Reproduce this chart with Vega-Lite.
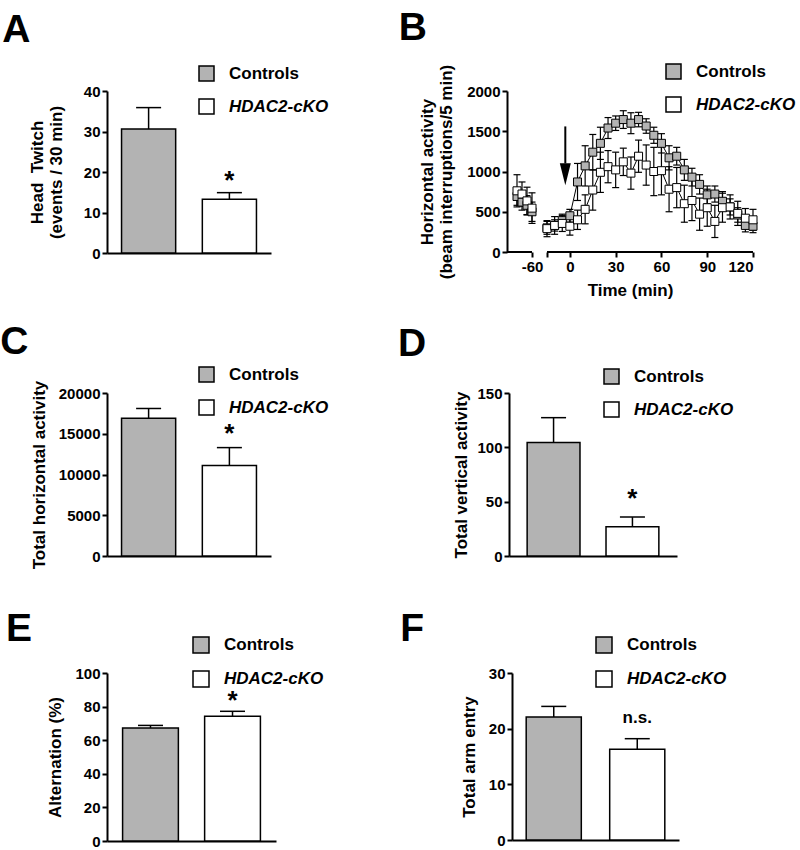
{
  "$schema": "https://vega.github.io/schema/vega-lite/v6.json",
  "background": "white",
  "padding": {"left": 0, "top": 9, "right": 0, "bottom": 0},
  "config": {
    "font": "Liberation Sans",
    "numberFormat": "d",
    "view": {"stroke": null},
    "axis": {"domainColor": "black", "domainWidth": 2, "tickColor": "black", "tickWidth": 2, "tickSize": 5, "tickCount": 20, "labelFont": "Liberation Sans", "labelFontWeight": "bold", "labelFontSize": 15, "labelColor": "black", "labelPadding": 2, "labelOverlap": false, "titleFont": "Liberation Sans", "titleFontSize": 17, "titleFontWeight": "bold", "titleColor": "black", "grid": false},
    "legend": {"orient": "none", "title": null, "symbolType": "square", "symbolSize": 225, "symbolStrokeColor": "black", "symbolStrokeWidth": 1.5, "symbolOpacity": 1, "labelFont": "Liberation Sans", "labelFontSize": 17, "labelFontWeight": "bold", "labelColor": "black", "labelOffset": 14, "rowPadding": 12, "padding": 0},
    "title": {"font": "Liberation Sans", "fontSize": 39, "fontWeight": "bold", "color": "black", "anchor": "start", "frame": "bounds", "baseline": "alphabetic"}
  },
  "resolve": {"scale": {"fill": "independent"}, "legend": {"fill": "independent"}},
  "spacing": 25,
  "vconcat": [
    {
      "spacing": 69,
      "resolve": {"scale": {"fill": "independent"}, "legend": {"fill": "independent"}},
      "hconcat": [
        {
          "width": 164, "height": 162,
          "title": {"text": "A", "dx": -26, "offset": 15},
          "data": {"values": [
            {"group": "Controls", "mean": 30.6, "hi": 35.9, "sig": ""},
            {"group": "HDAC2-cKO", "mean": 13.3, "hi": 14.9, "sig": "*"}
          ]},
          "encoding": {"x": {"field": "group", "type": "nominal", "sort": null, "scale": {"paddingInner": 0.33, "paddingOuter": 0.18}, "axis": {"labels": false, "ticks": false, "title": null}}},
          "layer": [
            {"mark": {"type": "rule", "color": "black", "strokeWidth": 1.5}, "encoding": {"y": {"field": "mean", "type": "quantitative"}, "y2": {"field": "hi"}}},
            {"mark": {"type": "tick", "orient": "horizontal", "color": "black", "size": 25, "thickness": 1.5, "opacity": 1}, "encoding": {"y": {"field": "hi", "type": "quantitative"}}},
            {"mark": {"type": "bar", "stroke": "black", "strokeWidth": 1.5, "opacity": 1},
             "encoding": {
               "y": {"field": "mean", "type": "quantitative", "scale": {"domain": [0, 40], "nice": false}, "axis": {"values": [0, 10, 20, 30, 40], "title": ["Head \u00a0Twitch", "(events / 30 min)"], "titlePadding": 18}},
               "fill": {"field": "group", "type": "nominal", "scale": {"domain": ["Controls", "HDAC2-cKO"], "range": ["#b3b3b3", "#ffffff"]},
                        "legend": {"legendX": 91, "legendY": -26, "encode": {"labels": {"update": {"fontStyle": {"signal": "datum.label == 'HDAC2-cKO' ? 'italic' : 'normal'"}}}}}}
             }},
            {"mark": {"type": "text", "fontSize": 26, "fontWeight": "bold", "baseline": "alphabetic", "dy": -4, "color": "black"}, "encoding": {"y": {"field": "hi", "type": "quantitative"}, "text": {"field": "sig"}}}
          ]
        },
        {
          "width": 246, "height": 161,
          "title": {"text": "B", "dx": -20, "offset": 15},
          "layer": [
            {
              "data": {"values": [{"a": -85, "b": -60}, {"a": -15, "b": 120}]},
              "mark": {"type": "rule", "strokeWidth": 2, "color": "black"},
              "encoding": {
                "x": {"field": "a", "type": "quantitative", "scale": {"domain": [-85, -60, -15, 120], "range": [0, 25, 40, 246], "nice": false, "zero": false},
                      "axis": {"values": [-60, -15, 0, 30, 60, 90, 120], "labelExpr": "datum.value == -15 ? '' : (datum.value < 0 ? '-' + abs(datum.value) : '' + datum.value)", "domain": false, "title": "Time (min)", "titlePadding": 8}},
                "x2": {"field": "b"},
                "y": {"datum": 0, "type": "quantitative", "scale": {"domain": [0, 2000], "nice": false},
                      "axis": {"values": [0, 500, 1000, 1500, 2000], "title": ["Horizontal activity", "(beam interruptions/5 min)"], "titlePadding": 11}}
              }
            },
            {
              "data": {"values": [
                {"t": -75, "g": "Controls", "s": "L", "m": 690, "lo": 580, "hi": 800},
                {"t": -70, "g": "Controls", "s": "L", "m": 620, "lo": 520, "hi": 720},
                {"t": -65, "g": "Controls", "s": "L", "m": 580, "lo": 460, "hi": 700},
                {"t": -60, "g": "Controls", "s": "L", "m": 500, "lo": 380, "hi": 620},
                {"t": -15, "g": "Controls", "s": "R", "m": 300, "lo": 220, "hi": 380},
                {"t": -10, "g": "Controls", "s": "R", "m": 330, "lo": 260, "hi": 400},
                {"t": -5, "g": "Controls", "s": "R", "m": 390, "lo": 310, "hi": 470},
                {"t": 0, "g": "Controls", "s": "R", "m": 450, "lo": 370, "hi": 530},
                {"t": 5, "g": "Controls", "s": "R", "m": 870, "lo": 640, "hi": 1100},
                {"t": 10, "g": "Controls", "s": "R", "m": 1070, "lo": 820, "hi": 1320},
                {"t": 15, "g": "Controls", "s": "R", "m": 1240, "lo": 1020, "hi": 1460},
                {"t": 20, "g": "Controls", "s": "R", "m": 1350, "lo": 1150, "hi": 1550},
                {"t": 25, "g": "Controls", "s": "R", "m": 1540, "lo": 1410, "hi": 1670},
                {"t": 30, "g": "Controls", "s": "R", "m": 1600, "lo": 1510, "hi": 1690},
                {"t": 35, "g": "Controls", "s": "R", "m": 1645, "lo": 1535, "hi": 1755},
                {"t": 40, "g": "Controls", "s": "R", "m": 1600, "lo": 1470, "hi": 1730},
                {"t": 45, "g": "Controls", "s": "R", "m": 1645, "lo": 1555, "hi": 1735},
                {"t": 50, "g": "Controls", "s": "R", "m": 1565, "lo": 1475, "hi": 1655},
                {"t": 55, "g": "Controls", "s": "R", "m": 1450, "lo": 1350, "hi": 1550},
                {"t": 60, "g": "Controls", "s": "R", "m": 1350, "lo": 1230, "hi": 1470},
                {"t": 65, "g": "Controls", "s": "R", "m": 1170, "lo": 1020, "hi": 1320},
                {"t": 70, "g": "Controls", "s": "R", "m": 1190, "lo": 1080, "hi": 1300},
                {"t": 75, "g": "Controls", "s": "R", "m": 1020, "lo": 890, "hi": 1150},
                {"t": 80, "g": "Controls", "s": "R", "m": 930, "lo": 820, "hi": 1040},
                {"t": 85, "g": "Controls", "s": "R", "m": 840, "lo": 720, "hi": 960},
                {"t": 90, "g": "Controls", "s": "R", "m": 710, "lo": 600, "hi": 820},
                {"t": 95, "g": "Controls", "s": "R", "m": 720, "lo": 620, "hi": 820},
                {"t": 100, "g": "Controls", "s": "R", "m": 630, "lo": 510, "hi": 750},
                {"t": 105, "g": "Controls", "s": "R", "m": 560, "lo": 460, "hi": 660},
                {"t": 110, "g": "Controls", "s": "R", "m": 460, "lo": 370, "hi": 550},
                {"t": 115, "g": "Controls", "s": "R", "m": 330, "lo": 250, "hi": 410},
                {"t": 120, "g": "Controls", "s": "R", "m": 320, "lo": 240, "hi": 400},
                {"t": -75, "g": "HDAC2-cKO", "s": "L", "m": 760, "lo": 560, "hi": 960},
                {"t": -70, "g": "HDAC2-cKO", "s": "L", "m": 720, "lo": 570, "hi": 870},
                {"t": -65, "g": "HDAC2-cKO", "s": "L", "m": 635, "lo": 465, "hi": 805},
                {"t": -60, "g": "HDAC2-cKO", "s": "L", "m": 545, "lo": 355, "hi": 735},
                {"t": -15, "g": "HDAC2-cKO", "s": "R", "m": 290, "lo": 190, "hi": 390},
                {"t": -10, "g": "HDAC2-cKO", "s": "R", "m": 330, "lo": 220, "hi": 440},
                {"t": -5, "g": "HDAC2-cKO", "s": "R", "m": 355, "lo": 255, "hi": 455},
                {"t": 0, "g": "HDAC2-cKO", "s": "R", "m": 320, "lo": 210, "hi": 430},
                {"t": 5, "g": "HDAC2-cKO", "s": "R", "m": 400, "lo": 280, "hi": 520},
                {"t": 10, "g": "HDAC2-cKO", "s": "R", "m": 530, "lo": 350, "hi": 710},
                {"t": 15, "g": "HDAC2-cKO", "s": "R", "m": 770, "lo": 520, "hi": 1020},
                {"t": 20, "g": "HDAC2-cKO", "s": "R", "m": 990, "lo": 740, "hi": 1240},
                {"t": 25, "g": "HDAC2-cKO", "s": "R", "m": 1060, "lo": 860, "hi": 1260},
                {"t": 30, "g": "HDAC2-cKO", "s": "R", "m": 1020, "lo": 800, "hi": 1240},
                {"t": 35, "g": "HDAC2-cKO", "s": "R", "m": 1120, "lo": 950, "hi": 1290},
                {"t": 40, "g": "HDAC2-cKO", "s": "R", "m": 980, "lo": 780, "hi": 1180},
                {"t": 45, "g": "HDAC2-cKO", "s": "R", "m": 1190, "lo": 990, "hi": 1390},
                {"t": 50, "g": "HDAC2-cKO", "s": "R", "m": 1080, "lo": 830, "hi": 1330},
                {"t": 55, "g": "HDAC2-cKO", "s": "R", "m": 1000, "lo": 700, "hi": 1300},
                {"t": 60, "g": "HDAC2-cKO", "s": "R", "m": 1010, "lo": 710, "hi": 1310},
                {"t": 65, "g": "HDAC2-cKO", "s": "R", "m": 780, "lo": 500, "hi": 1060},
                {"t": 70, "g": "HDAC2-cKO", "s": "R", "m": 800, "lo": 550, "hi": 1050},
                {"t": 75, "g": "HDAC2-cKO", "s": "R", "m": 600, "lo": 370, "hi": 830},
                {"t": 80, "g": "HDAC2-cKO", "s": "R", "m": 640, "lo": 390, "hi": 890},
                {"t": 85, "g": "HDAC2-cKO", "s": "R", "m": 470, "lo": 270, "hi": 670},
                {"t": 90, "g": "HDAC2-cKO", "s": "R", "m": 550, "lo": 320, "hi": 780},
                {"t": 95, "g": "HDAC2-cKO", "s": "R", "m": 380, "lo": 180, "hi": 580},
                {"t": 100, "g": "HDAC2-cKO", "s": "R", "m": 550, "lo": 370, "hi": 730},
                {"t": 105, "g": "HDAC2-cKO", "s": "R", "m": 560, "lo": 410, "hi": 710},
                {"t": 110, "g": "HDAC2-cKO", "s": "R", "m": 480, "lo": 330, "hi": 630},
                {"t": 115, "g": "HDAC2-cKO", "s": "R", "m": 420, "lo": 300, "hi": 540},
                {"t": 120, "g": "HDAC2-cKO", "s": "R", "m": 400, "lo": 270, "hi": 530}
              ]},
              "layer": [
                {"mark": {"type": "rule", "color": "black", "strokeWidth": 1.2}, "encoding": {"x": {"field": "t", "type": "quantitative"}, "y": {"field": "lo", "type": "quantitative"}, "y2": {"field": "hi"}}},
                {"mark": {"type": "tick", "orient": "horizontal", "color": "black", "size": 7, "thickness": 1.2, "opacity": 1}, "encoding": {"x": {"field": "t", "type": "quantitative"}, "y": {"field": "lo", "type": "quantitative"}}},
                {"mark": {"type": "tick", "orient": "horizontal", "color": "black", "size": 7, "thickness": 1.2, "opacity": 1}, "encoding": {"x": {"field": "t", "type": "quantitative"}, "y": {"field": "hi", "type": "quantitative"}}},
                {"mark": {"type": "line", "color": "black", "strokeWidth": 1}, "encoding": {"x": {"field": "t", "type": "quantitative"}, "y": {"field": "m", "type": "quantitative"}, "detail": [{"field": "g"}, {"field": "s"}]}},
                {"mark": {"type": "square", "size": 64, "stroke": "black", "strokeWidth": 1, "opacity": 1},
                 "encoding": {"x": {"field": "t", "type": "quantitative"}, "y": {"field": "m", "type": "quantitative"},
                   "fill": {"field": "g", "type": "nominal", "scale": {"domain": ["Controls", "HDAC2-cKO"], "range": ["#b3b3b3", "#ffffff"]},
                            "legend": {"legendX": 158, "legendY": -28, "encode": {"labels": {"update": {"fontStyle": {"signal": "datum.label == 'HDAC2-cKO' ? 'italic' : 'normal'"}}}}}}}}
              ]
            },
            {
              "data": {"values": [{"t": -3, "y1": 1560, "y2": 1100, "yh": 967}]},
              "layer": [
                {"mark": {"type": "rule", "strokeWidth": 2, "color": "black"}, "encoding": {"x": {"field": "t", "type": "quantitative"}, "y": {"field": "y1", "type": "quantitative"}, "y2": {"field": "y2"}}},
                {"mark": {"type": "point", "shape": "M-0.5,-1L0.5,-1L0,1Z", "filled": true, "color": "black", "size": 484, "opacity": 1}, "encoding": {"x": {"field": "t", "type": "quantitative"}, "y": {"field": "yh", "type": "quantitative"}}}
              ]
            }
          ]
        }
      ]
    },
    {
      "spacing": 68,
      "resolve": {"scale": {"fill": "independent"}, "legend": {"fill": "independent"}},
      "hconcat": [
        {
          "width": 164, "height": 163,
          "title": {"text": "C", "dx": -30, "offset": 4},
          "data": {"values": [
            {"group": "Controls", "mean": 16900, "hi": 18100, "sig": ""},
            {"group": "HDAC2-cKO", "mean": 11100, "hi": 13300, "sig": "*"}
          ]},
          "encoding": {"x": {"field": "group", "type": "nominal", "sort": null, "scale": {"paddingInner": 0.33, "paddingOuter": 0.18}, "axis": {"labels": false, "ticks": false, "title": " ", "titlePadding": 13}}},
          "layer": [
            {"mark": {"type": "rule", "color": "black", "strokeWidth": 1.5}, "encoding": {"y": {"field": "mean", "type": "quantitative"}, "y2": {"field": "hi"}}},
            {"mark": {"type": "tick", "orient": "horizontal", "color": "black", "size": 25, "thickness": 1.5, "opacity": 1}, "encoding": {"y": {"field": "hi", "type": "quantitative"}}},
            {"mark": {"type": "bar", "stroke": "black", "strokeWidth": 1.5, "opacity": 1},
             "encoding": {
               "y": {"field": "mean", "type": "quantitative", "scale": {"domain": [0, 20000], "nice": false}, "axis": {"values": [0, 5000, 10000, 15000, 20000], "title": "Total horizontal activity", "titlePadding": 10}},
               "fill": {"field": "group", "type": "nominal", "scale": {"domain": ["Controls", "HDAC2-cKO"], "range": ["#b3b3b3", "#ffffff"]},
                        "legend": {"legendX": 91, "legendY": -27, "encode": {"labels": {"update": {"fontStyle": {"signal": "datum.label == 'HDAC2-cKO' ? 'italic' : 'normal'"}}}}}}
             }},
            {"mark": {"type": "text", "fontSize": 26, "fontWeight": "bold", "baseline": "alphabetic", "dy": -6, "color": "black"}, "encoding": {"y": {"field": "hi", "type": "quantitative"}, "text": {"field": "sig"}}}
          ]
        },
        {
          "width": 168, "height": 163,
          "title": {"text": "D", "dx": -55, "offset": 4},
          "data": {"values": [
            {"group": "Controls", "mean": 104.4, "hi": 127.3, "sig": ""},
            {"group": "HDAC2-cKO", "mean": 26.9, "hi": 35.8, "sig": "*"}
          ]},
          "encoding": {"x": {"field": "group", "type": "nominal", "sort": null, "scale": {"paddingInner": 0.33, "paddingOuter": 0.23}, "axis": {"labels": false, "ticks": false, "title": null}}},
          "layer": [
            {"mark": {"type": "rule", "color": "black", "strokeWidth": 1.5}, "encoding": {"y": {"field": "mean", "type": "quantitative"}, "y2": {"field": "hi"}}},
            {"mark": {"type": "tick", "orient": "horizontal", "color": "black", "size": 25, "thickness": 1.5, "opacity": 1}, "encoding": {"y": {"field": "hi", "type": "quantitative"}}},
            {"mark": {"type": "bar", "stroke": "black", "strokeWidth": 1.5, "opacity": 1},
             "encoding": {
               "y": {"field": "mean", "type": "quantitative", "scale": {"domain": [0, 150], "nice": false}, "axis": {"values": [0, 50, 100, 150], "title": "Total vertical activity", "titlePadding": 6}},
               "fill": {"field": "group", "type": "nominal", "scale": {"domain": ["Controls", "HDAC2-cKO"], "range": ["#b3b3b3", "#ffffff"]},
                        "legend": {"legendX": 94, "legendY": -25, "encode": {"labels": {"update": {"fontStyle": {"signal": "datum.label == 'HDAC2-cKO' ? 'italic' : 'normal'"}}}}}}
             }},
            {"mark": {"type": "text", "fontSize": 26, "fontWeight": "bold", "baseline": "alphabetic", "dy": -10, "color": "black"}, "encoding": {"y": {"field": "hi", "type": "quantitative"}, "text": {"field": "sig"}}}
          ]
        }
      ]
    },
    {
      "spacing": 76,
      "resolve": {"scale": {"fill": "independent"}, "legend": {"fill": "independent"}},
      "hconcat": [
        {
          "width": 169, "height": 168,
          "title": {"text": "E", "dx": -41, "offset": -13},
          "data": {"values": [
            {"group": "Controls", "mean": 67.3, "hi": 68.8, "sig": ""},
            {"group": "HDAC2-cKO", "mean": 74.2, "hi": 77.2, "sig": "*"}
          ]},
          "encoding": {"x": {"field": "group", "type": "nominal", "sort": null, "scale": {"paddingInner": 0.32, "paddingOuter": 0.19}, "axis": {"labels": false, "ticks": false, "title": null}}},
          "layer": [
            {"mark": {"type": "rule", "color": "black", "strokeWidth": 1.5}, "encoding": {"y": {"field": "mean", "type": "quantitative"}, "y2": {"field": "hi"}}},
            {"mark": {"type": "tick", "orient": "horizontal", "color": "black", "size": 25, "thickness": 1.5, "opacity": 1}, "encoding": {"y": {"field": "hi", "type": "quantitative"}}},
            {"mark": {"type": "bar", "stroke": "black", "strokeWidth": 1.5, "opacity": 1},
             "encoding": {
               "y": {"field": "mean", "type": "quantitative", "scale": {"domain": [0, 100], "nice": false}, "axis": {"values": [0, 20, 40, 60, 80, 100], "tickCount": 20, "title": "Alternation (%)", "titlePadding": 10}},
               "fill": {"field": "group", "type": "nominal", "scale": {"domain": ["Controls", "HDAC2-cKO"], "range": ["#b3b3b3", "#ffffff"]},
                        "legend": {"legendX": 85, "legendY": -37, "symbolSize": 256, "encode": {"labels": {"update": {"fontStyle": {"signal": "datum.label == 'HDAC2-cKO' ? 'italic' : 'normal'"}}}}}}
             }},
            {"mark": {"type": "text", "fontSize": 26, "fontWeight": "bold", "baseline": "alphabetic", "dy": -2, "color": "black"}, "encoding": {"y": {"field": "hi", "type": "quantitative"}, "text": {"field": "sig"}}}
          ]
        },
        {
          "width": 167, "height": 167,
          "title": {"text": "F", "dx": -60, "offset": -13},
          "data": {"values": [
            {"group": "Controls", "mean": 22.1, "hi": 24.0, "sig": ""},
            {"group": "HDAC2-cKO", "mean": 16.3, "hi": 18.2, "sig": "n.s."}
          ]},
          "encoding": {"x": {"field": "group", "type": "nominal", "sort": null, "scale": {"paddingInner": 0.34, "paddingOuter": 0.17}, "axis": {"labels": false, "ticks": false, "title": null}}},
          "layer": [
            {"mark": {"type": "rule", "color": "black", "strokeWidth": 1.5}, "encoding": {"y": {"field": "mean", "type": "quantitative"}, "y2": {"field": "hi"}}},
            {"mark": {"type": "tick", "orient": "horizontal", "color": "black", "size": 25, "thickness": 1.5, "opacity": 1}, "encoding": {"y": {"field": "hi", "type": "quantitative"}}},
            {"mark": {"type": "bar", "stroke": "black", "strokeWidth": 1.5, "opacity": 1},
             "encoding": {
               "y": {"field": "mean", "type": "quantitative", "scale": {"domain": [0, 30], "nice": false}, "axis": {"values": [0, 10, 20, 30], "title": "Total arm entry", "titlePadding": 10}},
               "fill": {"field": "group", "type": "nominal", "scale": {"domain": ["Controls", "HDAC2-cKO"], "range": ["#b3b3b3", "#ffffff"]},
                        "legend": {"legendX": 83, "legendY": -37, "symbolSize": 256, "encode": {"labels": {"update": {"fontStyle": {"signal": "datum.label == 'HDAC2-cKO' ? 'italic' : 'normal'"}}}}}}
             }},
            {"mark": {"type": "text", "fontSize": 17, "fontWeight": "bold", "baseline": "alphabetic", "dy": -16, "color": "black"}, "encoding": {"y": {"field": "hi", "type": "quantitative"}, "text": {"field": "sig"}}}
          ]
        }
      ]
    }
  ]
}
